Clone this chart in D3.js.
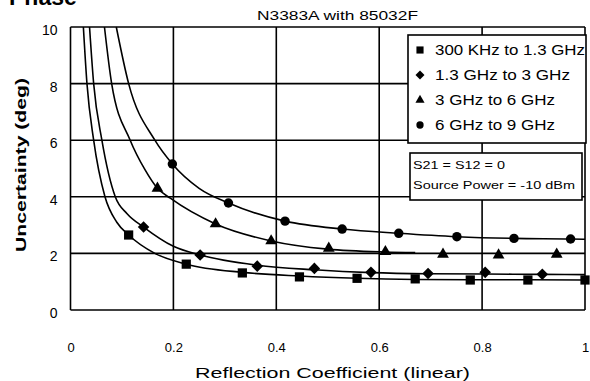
<!DOCTYPE html>
<html><head><meta charset="utf-8">
<script src="https://cdn.jsdelivr.net/npm/d3@7"></script>
<style>body{margin:0;background:#fff}svg{display:block}text{font-family:"Liberation Sans",Arial,sans-serif;fill:#000}</style>
</head><body><svg id="c" width="590" height="381"></svg>
<script>
// ---- data ----
const xTicks = [0, 0.2, 0.4, 0.6, 0.8, 1];
const xTickLabels = ["0", "0.2", "0.4", "0.6", "0.8", "1"];
const yTicks = [0, 2, 4, 6, 8, 10];
const yTickLabels = ["0", "2", "4", "6", "8", "10"];
const seriesNames = ["300 KHz to 1.3 GHz", "1.3 GHz to 3 GHz", "3 GHz to 6 GHz", "6 GHz to 9 GHz"];
const seriesShapes = ["square", "diamond", "triangle", "circle"];

// markers
const sqX = [0.113, 0.225, 0.334, 0.445, 0.557, 0.67, 0.777, 0.889, 1.0];
const sqY = [2.65, 1.62, 1.31, 1.17, 1.12, 1.1, 1.06, 1.06, 1.06];
const diaX = [0.142, 0.252, 0.363, 0.474, 0.584, 0.695, 0.806, 0.917];
const diaY = [2.93, 1.94, 1.55, 1.47, 1.33, 1.29, 1.33, 1.26];
const triX = [0.169, 0.282, 0.39, 0.502, 0.612, 0.724, 0.832, 0.945];
const triY = [4.3, 3.04, 2.44, 2.18, 2.06, 1.97, 1.94, 1.97];
const cirX = [0.198, 0.307, 0.417, 0.528, 0.638, 0.751, 0.862, 0.972];
const cirY = [5.16, 3.78, 3.14, 2.86, 2.71, 2.59, 2.53, 2.51];

// curves
const sqCurveX = [0.025, 0.032, 0.045, 0.067, 0.09, 0.113, 0.164, 0.225, 0.334, 0.445, 0.557, 0.67, 0.78, 0.89, 1.0];
const sqCurveY = [10, 8, 6, 4, 3.1, 2.65, 2.0, 1.62, 1.33, 1.2, 1.12, 1.08, 1.07, 1.07, 1.06];
const diaCurveX = [0.037, 0.045, 0.061, 0.087, 0.11, 0.142, 0.2, 0.252, 0.363, 0.474, 0.584, 0.695, 0.806, 0.917, 1.0];
const diaCurveY = [10, 8, 6, 4, 3.4, 2.93, 2.25, 1.94, 1.58, 1.42, 1.32, 1.28, 1.27, 1.26, 1.25];
const triCurveX = [0.066, 0.08, 0.116, 0.145, 0.169, 0.194, 0.282, 0.39, 0.5, 0.612, 0.67];
const triCurveY = [10, 8, 6, 4.95, 4.3, 3.95, 3.04, 2.44, 2.15, 2.05, 2.03];
const cirCurveX = [0.089, 0.113, 0.164, 0.198, 0.25, 0.307, 0.417, 0.528, 0.638, 0.751, 0.862, 0.972, 1.0];
const cirCurveY = [10, 8, 6, 5.16, 4.3, 3.78, 3.14, 2.86, 2.71, 2.59, 2.53, 2.51, 2.5];

const noteLines = ["S21 = S12 = 0", "Source Power = -10 dBm"];

// ---- drawing ----
const svg = d3.select("#c");
const x = d3.scaleLinear().domain([0, 1]).range([70.5, 585]);
const y = d3.scaleLinear().domain([0, 10]).range([310, 27]);

// title
svg.append("text").attr("x", 9).attr("y", 5).attr("font-size", 23).attr("font-weight", "bold").text("Phase");
svg.append("text").attr("x", 257).attr("y", 20).attr("font-size", 13)
  .attr("textLength", 161).attr("lengthAdjust", "spacingAndGlyphs").text("N3383A with 85032F");

// grid
const grid = svg.append("g").attr("stroke", "#000").attr("stroke-width", 1.6);
xTicks.forEach(t => grid.append("line").attr("x1", x(t)).attr("x2", x(t)).attr("y1", y(0)).attr("y2", y(10)));
yTicks.forEach(t => grid.append("line").attr("x1", x(0)).attr("x2", x(1)).attr("y1", y(t)).attr("y2", y(t)));

// axes labels via d3 axes (no domain/ticks lines)
const ax = svg.append("g").attr("transform", `translate(0,${y(0) + 25})`)
  .call(d3.axisBottom(x).tickValues(xTicks).tickFormat((d, i) => xTickLabels[i]).tickSize(0).tickPadding(8));
ax.select(".domain").remove();
ax.selectAll("text").attr("font-size", 13).attr("font-family", "Liberation Sans, Arial").attr("fill", "#000");

const ay = svg.append("g").attr("transform", `translate(${x(0) - 13},3)`)
  .call(d3.axisLeft(y).tickValues(yTicks).tickFormat((d, i) => yTickLabels[i]).tickSize(0).tickPadding(0));
ay.select(".domain").remove();
ay.selectAll("text").attr("font-size", 14).attr("font-family", "Liberation Sans, Arial").attr("fill", "#000");

svg.append("text").attr("x", 195).attr("y", 378).attr("font-size", 15)
  .attr("textLength", 275).attr("lengthAdjust", "spacingAndGlyphs").text("Reflection Coefficient (linear)");
svg.append("text").attr("transform", "translate(26,252) rotate(-90)").attr("font-size", 14).attr("font-weight", "bold")
  .attr("textLength", 174).attr("lengthAdjust", "spacingAndGlyphs").text("Uncertainty (deg)");

// curves
const line = d3.line().x(d => x(d[0])).y(d => y(d[1])).curve(d3.curveMonotoneX);
svg.append("clipPath").attr("id", "pc").append("rect")
  .attr("x", x(0)).attr("y", y(10) - 5).attr("width", x(1) - x(0) + 2).attr("height", y(0) - y(10) + 5);
const curves = [[sqCurveX, sqCurveY], [diaCurveX, diaCurveY], [triCurveX, triCurveY], [cirCurveX, cirCurveY]];
const cg = svg.append("g").attr("clip-path", "url(#pc)");
curves.forEach(([cx, cy]) => {
  cg.append("path").attr("d", line(cx.map((v, i) => [v, cy[i]]))).attr("fill", "none").attr("stroke", "#000").attr("stroke-width", 1.6);
});

// markers
const symType = {square: d3.symbolSquare, diamond: d3.symbolDiamond2, triangle: d3.symbolTriangle, circle: d3.symbolCircle};
const symSize = {square: 85, diamond: 85, triangle: 60, circle: 70};
const markerSets = [[sqX, sqY], [diaX, diaY], [triX, triY], [cirX, cirY]];
markerSets.forEach(([mx, my], s) => {
  const shape = seriesShapes[s];
  svg.append("g").selectAll("path").data(mx.map((v, i) => [v, my[i]])).join("path")
    .attr("transform", d => `translate(${x(d[0])},${y(d[1])})`)
    .attr("d", d3.symbol().type(symType[shape]).size(symSize[shape])).attr("fill", "#000");
});

// legend
const lg = svg.append("g");
lg.append("rect").attr("x", 408).attr("y", 35).attr("width", 178).attr("height", 108)
  .attr("fill", "#fff").attr("stroke", "#000").attr("stroke-width", 1.6);
const legW = [150, 135, 120, 120];
seriesNames.forEach((n, i) => {
  const yy = 50 + i * 25;
  const shape = seriesShapes[i];
  lg.append("path").attr("transform", `translate(420,${yy})`)
    .attr("d", d3.symbol().type(symType[shape]).size(symSize[shape] * 0.6)).attr("fill", "#000");
  lg.append("text").attr("x", 435).attr("y", yy + 5).attr("font-size", 14)
    .attr("textLength", legW[i]).attr("lengthAdjust", "spacingAndGlyphs").text(n);
});

// note box
const nb = svg.append("g");
nb.append("rect").attr("x", 410).attr("y", 153).attr("width", 172).attr("height", 47)
  .attr("fill", "#fff").attr("stroke", "#000").attr("stroke-width", 1.6);
const noteW = [92, 162];
noteLines.forEach((t, i) => {
  nb.append("text").attr("x", 413).attr("y", 169 + i * 20).attr("font-size", 11)
    .attr("textLength", noteW[i]).attr("lengthAdjust", "spacingAndGlyphs").text(t);
});
</script></body></html>
